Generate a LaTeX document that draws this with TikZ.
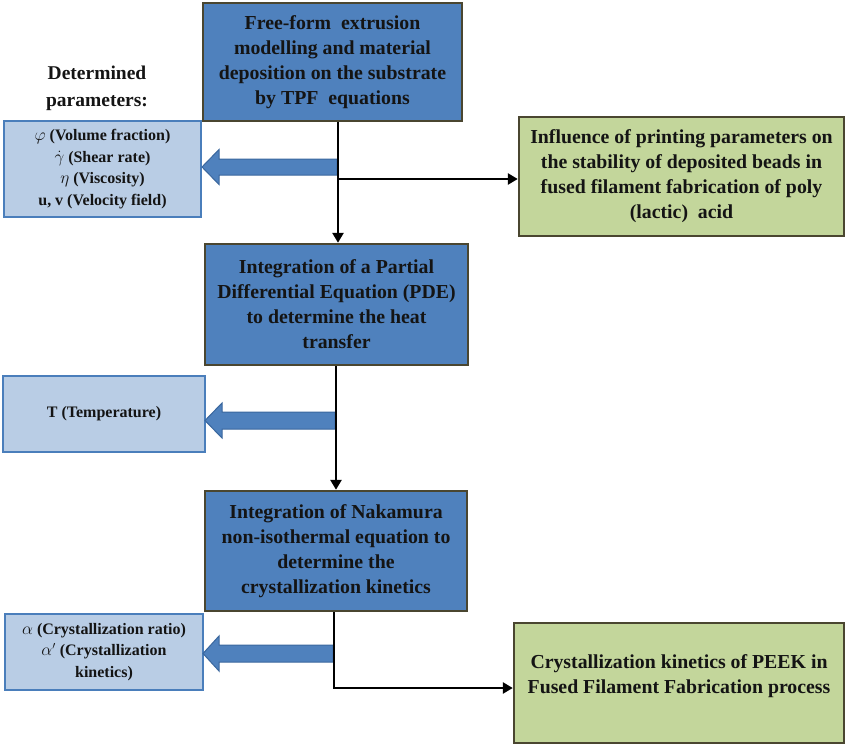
\documentclass[tikz,border=0pt]{standalone}
\usepackage{fontspec}
\setmainfont{Liberation Serif}
\usetikzlibrary{arrows.meta}
\definecolor{boxblue}{HTML}{4F81BD}
\definecolor{boxedge}{HTML}{4A4630}
\definecolor{boxgreen}{HTML}{C3D69B}
\definecolor{paleblue}{HTML}{B9CDE5}
\definecolor{paleedge}{HTML}{4A7EBB}
\definecolor{arrowedge}{HTML}{3A679E}
\definecolor{ink}{HTML}{141414}
\begin{document}
\begin{tikzpicture}[x=1pt,y=1pt,
 mainbox/.style={draw=boxedge, line width=2.4pt, fill=boxblue, text=ink, align=center, font=\bfseries\fontsize{19.8}{25}\selectfont, inner sep=0pt},
 resultbox/.style={mainbox, fill=boxgreen},
 resulttext/.style={text=ink, align=center, font=\bfseries\fontsize{19.8}{25}\selectfont},
 parambox/.style={draw=paleedge, line width=2pt, fill=paleblue, text=ink, align=center, font=\bfseries\fontsize{16}{21.5}\selectfont, inner sep=0pt},
 flow/.style={draw=black, line width=2.6pt, -{Triangle[length=10pt,width=11pt]}},
 fatarrow/.style={fill=boxblue, draw=arrowedge, line width=1pt, line join=miter},
 heading/.style={text=ink, align=center, font=\bfseries\fontsize{19.5}{27}\selectfont}
]
\useasboundingbox (0,0) rectangle (845,-745);

% main process boxes
\node[mainbox, minimum width=259pt, minimum height=118pt] (b1) at (332.5,-62)
  {Free-form\ \ extrusion\\modelling and material\\deposition on the substrate\\by TPF\ \ equations};
\node[mainbox, minimum width=263pt, minimum height=121pt] (b2) at (336.5,-304.5)
  {Integration of a Partial\\Differential Equation (PDE)\\to determine the heat\\transfer};
\node[mainbox, minimum width=262pt, minimum height=120pt] (b3) at (336,-551)
  {Integration of Nakamura\\non-isothermal equation to\\determine the\\crystallization kinetics};

% result boxes
\node[resultbox, minimum width=325pt, minimum height=119pt] (g1) at (681.5,-176.5) {};
\node[resulttext] (g1t) at (g1.center)
  {Influence of printing parameters on\\the stability of deposited beads in\\fused filament fabrication of poly\\(lactic)\ \ acid};
\node[resultbox, minimum width=330pt, minimum height=120pt] (g2) at (679,-683) {};
\node[resulttext] (g2t) at (679,-676)
  {Crystallization kinetics of PEEK in\\Fused Filament Fabrication process};

% parameter boxes
\node[heading] (hd) at (97,-88) {Determined\\parameters:};
\node[parambox, minimum width=197pt, minimum height=96pt] (l1) at (102.5,-169)
  {$\varphi$ (Volume fraction)\\$\dot{\gamma}$ (Shear rate)\\$\eta$ (Viscosity)\\u, v (Velocity field)};
\node[parambox, minimum width=202pt, minimum height=76pt] (l2) at (104,-414)
  {T (Temperature)};
\node[parambox, minimum width=198pt, minimum height=76pt] (l3) at (104,-652)
  {$\alpha$ (Crystallization ratio)\\$\alpha'$ (Crystallization\\kinetics)};

% block arrows
\path[fatarrow] (202,-167) -- (219,-149.5) -- (219,-159) -- (337,-159) -- (337,-175) -- (219,-175) -- (219,-184.5) -- cycle;
\path[fatarrow] (205,-420.5) -- (222,-403) -- (222,-412) -- (335,-412) -- (335,-429) -- (222,-429) -- (222,-438) -- cycle;
\path[fatarrow] (203,-653.5) -- (219,-636) -- (219,-645) -- (333,-645) -- (333,-662) -- (219,-662) -- (219,-671) -- cycle;

% connectors
\coordinate (j1) at (338,-179);
\coordinate (j2) at (336,-420);
\coordinate (j3) at (334,-688);
\draw[flow] (b1.south -| j1) -- (b2.north -| j1);
\draw[flow] (j1) -- (j1 -| g1.west);
\draw[flow] (b2.south -| j2) -- (b3.north -| j2);
\draw[flow] (b3.south -| j3) -- (j3) -- (j3 -| g2.west);
\end{tikzpicture}
\end{document}
